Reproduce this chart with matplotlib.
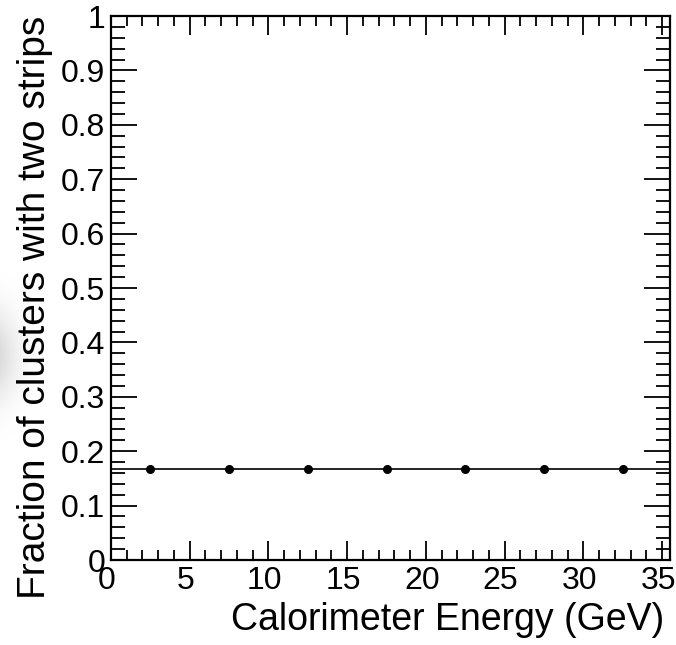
import numpy as np
import matplotlib
matplotlib.use('Agg')
import matplotlib.pyplot as plt
import matplotlib.transforms as mtransforms
from matplotlib.ticker import MultipleLocator

plt.rcParams['font.family'] = ['Liberation Sans', 'DejaVu Sans']

energy = [2.5, 7.5, 12.5, 17.5, 22.5, 27.5, 32.5]
fraction = [0.1667, 0.1667, 0.1667, 0.1667, 0.1667, 0.1667, 0.1667]
fit_value = 0.1667
x_ticks = [0, 5, 10, 15, 20, 25, 30, 35]
y_ticks = [0, 0.1, 0.2, 0.3, 0.4, 0.5, 0.6, 0.7, 0.8, 0.9, 1]
y_labels = ['0', '0.1', '0.2', '0.3', '0.4', '0.5', '0.6', '0.7', '0.8', '0.9', '1']

fig = plt.figure(figsize=(6.76, 6.45), dpi=100)

# faint grey blob on the left edge
bg = fig.add_axes([0, 0, 1, 1], zorder=-5)
bg.axis('off')
yy, xx = np.mgrid[0:645, 0:676]
blob = np.exp(-(((xx + 15) / 30.0) ** 2 + ((yy - 355) / 45.0) ** 2))
bg.imshow(1 - 0.18 * blob, cmap='gray', vmin=0, vmax=1, extent=[0, 676, 645, 0], aspect='auto')

ax = fig.add_axes([111 / 676, 85 / 645, 559 / 676, 544 / 645])
ax.set_facecolor('none')
ax.axhline(fit_value, color='black', lw=1.2)
ax.plot(energy, fraction, 'o', color='black', ms=5.5)

ax.set_xlim(0, 35.5)
ax.set_ylim(0, 1)
ax.set_xticks(x_ticks)
ax.set_yticks(y_ticks)
ax.set_yticklabels(y_labels)
ax.xaxis.set_minor_locator(MultipleLocator(1))
ax.yaxis.set_minor_locator(MultipleLocator(0.02))
ax.tick_params(which='both', direction='in', top=True, right=True, width=1.3, labelsize=23, colors='black')
ax.tick_params(axis='x', which='major', length=14, pad=4)
ax.tick_params(axis='x', which='minor', length=7)
ax.tick_params(axis='y', which='major', length=19, pad=4)
ax.tick_params(axis='y', which='minor', length=10)
for s in ax.spines.values():
    s.set_linewidth(1.6)

# x tick labels sit a few pixels left of their ticks in the original
shift = mtransforms.ScaledTranslation(-4 / 100, 0, fig.dpi_scale_trans)
for lab in ax.get_xticklabels():
    lab.set_transform(lab.get_transform() + shift)

ax.set_xlabel('Calorimeter Energy (GeV)', fontsize=27, loc='right')
ax.set_ylabel('Fraction of clusters with two strips', fontsize=28, loc='top', labelpad=6)
ax.xaxis.set_label_coords(1 - 6 / 559, -42 / 544)

fig.savefig('out.png', dpi=100)
